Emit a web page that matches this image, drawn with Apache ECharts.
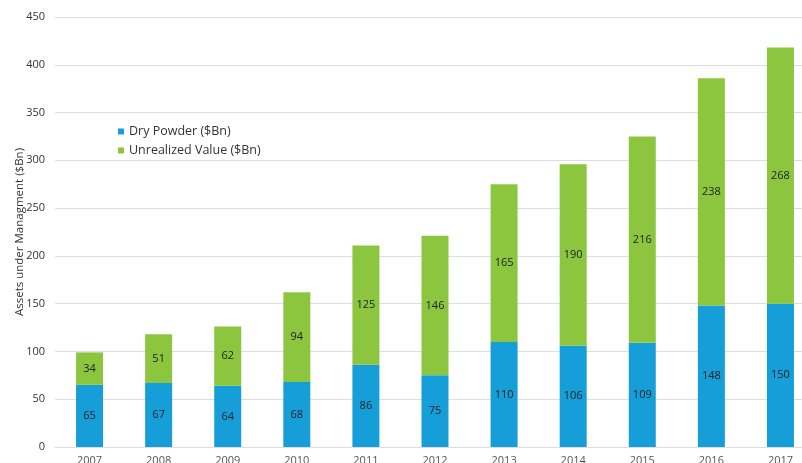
<!DOCTYPE html>
<html><head><meta charset="utf-8">
<script src="https://cdn.jsdelivr.net/npm/echarts@6/dist/echarts.min.js"></script>
<style>html,body{margin:0;padding:0;background:#fff}#c{width:802px;height:463px}</style>
</head><body><div id="c"></div>
<script>
const years = ['2007','2008','2009','2010','2011','2012','2013','2014','2015','2016','2017'];
const dryPowder = [65,67,64,68,86,75,110,106,109,148,150];
const unrealized = [34,51,62,94,125,146,165,190,216,238,268];
const yTicks = {min:0, max:450, interval:50};
const font = '"Open Sans", sans-serif';
const chart = echarts.init(document.getElementById('c'));
const lbl = {show:true, position:'inside', color:'#222', fontSize:11, fontFamily:font};
chart.setOption({
  animation:false,
  textStyle:{fontFamily:font},
  grid:{left:55, width:760, top:17, bottom:16, containLabel:false, outerBoundsMode:'none'},
  legend:{orient:'vertical', left:113, top:120, itemWidth:6, itemHeight:6, itemGap:6,
    icon:'rect', textStyle:{fontSize:12.5, color:'#333', fontFamily:font},
    data:['Dry Powder ($Bn)','Unrealized Value ($Bn)']},
  xAxis:{type:'category', data:years,
    axisLine:{show:true, lineStyle:{color:'#ddd'}}, axisTick:{show:false},
    axisLabel:{color:'#555', fontSize:11, margin:8, fontFamily:font}},
  yAxis:{type:'value', min:yTicks.min, max:yTicks.max, interval:yTicks.interval,
    name:'Assets under Managment ($Bn)', nameLocation:'middle', nameGap:29, nameRotate:90,
    nameMoveOverlap:false,
    nameTextStyle:{fontSize:11.5, color:'#333', fontFamily:font},
    axisLine:{show:false}, axisTick:{show:false},
    axisLabel:{color:'#333', fontSize:11, margin:10, fontFamily:font},
    splitLine:{lineStyle:{color:'#ddd'}}},
  series:[
    {name:'Dry Powder ($Bn)', type:'bar', stack:'a', data:dryPowder, barWidth:27,
     itemStyle:{color:'#159ed8'}, label:lbl},
    {name:'Unrealized Value ($Bn)', type:'bar', stack:'a', data:unrealized, barWidth:27,
     itemStyle:{color:'#8cc63f'}, label:lbl}
  ]
});
</script></body></html>
